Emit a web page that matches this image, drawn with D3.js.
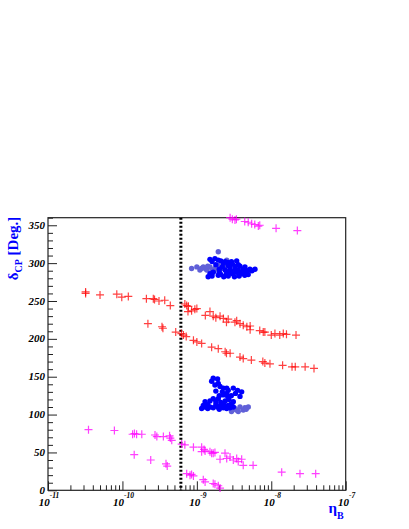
<!DOCTYPE html>
<meta charset="utf-8">
<script src="https://d3js.org/d3.v7.min.js"></script>
<style type="text/css">
body { margin: 0; background: #fff; }
.axis path { display: none; }
.axis line { stroke: #222; stroke-width: 1px; }
.tickLabel {
  font-family: "Liberation Serif", serif;
  font-weight: bold;
  font-style: italic;
  font-size: 11px;
  fill: #000;
}
.axisTitle {
  font-family: "Liberation Serif", serif;
  font-weight: bold;
  fill: #0000ff;
}
</style>
<body></body>
<script>

// [eta_B, delta_CP]
var redPoints = [
  [3.2e-11,262],[3.2e-11,260],[5.0e-11,258],[8.4e-11,259],[9.8e-11,255],[1.2e-10,256],
  [2.1e-10,253],[2.6e-10,253],[2.7e-10,252],[3.1e-10,250],[3.7e-10,251],[4.4e-10,244],
  [7.3e-10,244],[7.6e-10,236],[6.9e-10,246],[7.7e-10,243],[8.5e-10,237],[9.4e-10,239],
  [1.0e-9,240],[1.3e-9,231],[1.5e-9,236],[1.66e-9,230],[1.8e-9,228],[2.05e-9,230],
  [2.27e-9,227],[2.5e-9,222],[2.64e-9,226],[3.25e-9,222],[3.43e-9,224],[3.8e-9,220],
  [4.2e-9,218],[4.7e-9,216],[5.2e-9,217],[5.2e-9,212],[7.0e-9,211],[7.8e-9,209],
  [8.2e-9,209],[1.0e-8,205],[1.12e-8,207],[1.3e-8,205],[1.45e-8,207],[1.6e-8,206],
  [2.15e-8,205],
  [2.2e-10,220],[3.4e-10,216],[3.5e-10,214],[5.2e-10,209],[6.2e-10,207],[7.2e-10,203],
  [6.6e-10,205],[9.0e-10,198],[1.0e-9,196],[1.16e-9,194],[1.58e-9,189],[1.94e-9,187],
  [2.4e-9,183],[2.5e-9,181],[2.8e-9,181],[3.8e-9,176],[4.2e-9,174],[5.4e-9,172],
  [7.7e-9,170],[8.2e-9,168],[9.6e-9,167],[1.42e-8,165],[1.9e-8,163],[2.1e-8,163],
  [2.85e-8,163],[3.75e-8,161]
];

var magentaPoints = [
  [2.8e-9,360],[3.0e-9,358],[3.25e-9,357],[3.4e-9,358],[4.4e-9,355],[4.9e-9,354],
  [5.45e-9,352],[6.0e-9,351],[6.7e-9,349],[7.0e-9,350],[1.16e-8,346],[2.24e-8,343],
  [3.5e-11,80],[7.8e-11,79],[1.37e-10,74],[1.45e-10,75],[1.55e-10,74],[1.82e-10,74],
  [2.74e-10,73],[2.9e-10,71],[3.55e-10,71],[4.3e-10,72],[4.4e-10,69],[4.6e-10,66],
  [6.25e-10,61],[6.9e-10,60],[9.0e-10,57],[1.16e-9,57],[1.25e-9,54],[1.29e-9,52],
  [1.16e-9,51],[1.5e-9,51],[1.58e-9,49],[1.66e-9,49],[1.75e-9,50],[2.05e-9,41],
  [2.39e-9,49],[2.52e-9,42],[2.79e-9,44],[3.09e-9,40],[3.43e-9,42],[3.6e-9,38],
  [4.0e-9,41],[4.2e-9,33],[5.7e-9,33],[1.38e-8,24],[2.43e-8,22],[3.95e-8,22],
  [1.44e-10,47],[2.4e-10,40],[3.85e-10,35],[4.0e-10,32],[7.3e-10,22],[8.1e-10,20],
  [8.5e-10,21],[9.0e-10,19],[1.22e-9,14],[1.29e-9,11],[1.66e-9,9],[1.75e-9,8],
  [1.94e-9,6],[2.05e-9,3]
];

var lightBluePoints = [
  [8.5e-10,293],[1.0e-9,295],[1.1e-9,291],[1.22e-9,295],[1.3e-9,293],[1.36e-9,291],
  [1.5e-9,295],[1.6e-9,291],[1.75e-9,293],[1.94e-9,297],[2.0e-9,291],[2.16e-9,293],
  [2.39e-9,296],[2.52e-9,304],[1.94e-9,315],[1.15e-9,293],[1.4e-9,296],[1.7e-9,290],
  [3.25e-9,108],[3.8e-9,110],[4.43e-9,109],[4.91e-9,110],[2.92e-9,104],[3.6e-9,104],
  [4.2e-9,106],[3.4e-9,106],[4.6e-9,107]
];

var bluePoints = [
  [1.5e-9,305],[1.75e-9,306],[1.94e-9,304],[2.1e-9,303],[2.92e-9,302],[3.43e-9,303],
  [2.27e-9,300],[2.64e-9,297],[3.0e-9,299],[3.25e-9,296],[3.8e-9,296],[4.43e-9,295],
  [5.17e-9,292],[6.04e-9,292],[2.4e-9,291],[2.9e-9,289],[3.4e-9,288],[4.0e-9,288],
  [1.42e-9,282],[1.6e-9,283],[1.94e-9,284],[2.3e-9,282],[2.64e-9,283],[3.2e-9,282],
  [3.7e-9,283],[4.4e-9,284],[4.9e-9,285],[1.5e-9,286],[1.66e-9,288],[2.0e-9,288],
  [2.2e-9,295],[2.8e-9,293],[3.0e-9,286],[4.8e-9,290],[2.5e-9,286],[1.8e-9,298],
  [2.0e-9,292],[3.6e-9,291],[4.2e-9,292],[2.6e-9,301],[1.6e-9,302],
  [2.4e-9,302],[3.3e-9,292],[3.9e-9,286],[5.5e-9,290],[2.8e-9,298],[3.6e-9,298],
  [2.1e-9,285],[2.7e-9,289],[4.5e-9,288],
  [1.66e-9,148],[1.9e-9,147],[1.58e-9,144],[1.94e-9,141],[1.75e-9,139],[2.05e-9,137],
  [2.27e-9,135],[2.52e-9,135],[2.64e-9,132],[3.09e-9,135],[3.53e-9,132],[4.0e-9,130],
  [3.8e-9,124],[2.52e-9,128],[2.27e-9,126],[1.94e-9,121],[1.66e-9,121],[1.29e-9,117],
  [1.5e-9,118],[1.16e-9,108],[1.29e-9,110],[1.5e-9,110],[1.66e-9,109],[1.9e-9,110],
  [2.05e-9,111],[2.27e-9,109],[2.52e-9,108],[2.79e-9,109],[3.09e-9,110],[3.09e-9,117],
  [2.64e-9,112],[1.22e-9,112],[1.4e-9,113],[1.8e-9,114],[2.1e-9,116],[2.4e-9,118],
  [2.7e-9,120],[2.0e-9,125],[2.2e-9,130],[1.8e-9,131],[2.6e-9,124],[3.3e-9,128],[2.9e-9,114],
  [1.8e-9,118],[2.3e-9,113],[1.4e-9,108],[2.0e-9,107],[2.9e-9,125]
];

var observedEta = 6.1e-10;
var xDecades = [-11, -10, -9, -8, -7];
var yTicks = [0, 50, 100, 150, 200, 250, 300, 350];

var width = 409, height = 529;
var frame = {left: 48, right: 345.7, top: 217.7, bottom: 490.3};

var svg = d3.select("body").append("svg")
    .attr("width", width)
    .attr("height", height);

var xScale = d3.scaleLog()
  .domain([1e-11, 1e-7])
  .range([frame.left, frame.right]);

var yScale = d3.scaleLinear()
  .domain([0, 360])
  .range([frame.bottom, frame.top]);

// minor ticks 2..9 in each decade
var xMinor = [];
xDecades.slice(0, -1).forEach(function(e) {
  for (var k = 2; k < 10; k++) xMinor.push(k * Math.pow(10, e));
});
var yMinor = d3.range(0, 361, 10).filter(function(v) { return v % 50 != 0; });

svg.append("g").attr("class", "x axis")
  .attr("transform", "translate(0," + frame.bottom + ")")
  .call(d3.axisBottom(xScale).tickValues(xMinor).tickSize(-5).tickFormat(""));
svg.append("g").attr("class", "x axis")
  .attr("transform", "translate(0," + frame.bottom + ")")
  .call(d3.axisBottom(xScale).tickValues(xDecades.map(function(e) { return Math.pow(10, e); })).tickSize(-9).tickFormat(""));

svg.append("g").attr("class", "y axis")
  .attr("transform", "translate(" + frame.left + ",0)")
  .call(d3.axisLeft(yScale).tickValues(yMinor).tickSize(-5).tickFormat(""));
svg.append("g").attr("class", "y axis")
  .attr("transform", "translate(" + frame.left + ",0)")
  .call(d3.axisLeft(yScale).tickValues(yTicks).tickSize(-9).tickFormat(""));

// frame
svg.append("rect")
  .attr("x", frame.left)
  .attr("y", frame.top)
  .attr("width", frame.right - frame.left)
  .attr("height", frame.bottom - frame.top)
  .style("fill", "none")
  .style("stroke", "#222")
  .style("stroke-width", 1.2);

// tick labels
svg.selectAll(".yLabel")
  .data(yTicks).enter().append("text")
  .attr("class", "tickLabel")
  .attr("x", frame.left - 3)
  .attr("y", function(d) { return yScale(d); })
  .attr("dy", "0.33em")
  .attr("text-anchor", "end")
  .text(function(d) { return d; });

var xLab = svg.selectAll(".xLabel")
  .data(xDecades).enter().append("text")
  .attr("class", "tickLabel")
  .attr("x", function(d) { return xScale(Math.pow(10, d)) + 1; })
  .attr("y", frame.bottom + 16)
  .attr("text-anchor", "middle");
xLab.append("tspan").text("10");
xLab.append("tspan")
  .attr("dy", -8)
  .style("font-size", "7.5px")
  .text(function(d) { return d; });

// observed value
svg.append("line")
  .attr("x1", xScale(observedEta))
  .attr("x2", xScale(observedEta))
  .attr("y1", frame.top)
  .attr("y2", frame.bottom)
  .style("stroke", "#000")
  .style("stroke-width", 3)
  .style("stroke-dasharray", "2,2");

function plusPath(d) {
  var x = xScale(d[0]), y = yScale(d[1]), s = 4;
  return "M" + (x - s) + "," + y + "H" + (x + s) + "M" + x + "," + (y - s) + "V" + (y + s);
}

svg.selectAll(".redPlus")
  .data(redPoints).enter().append("path")
  .attr("class", "redPlus")
  .attr("d", plusPath)
  .style("stroke", "#ff0000")
  .style("stroke-opacity", 0.75)
  .style("stroke-width", 1.2);

svg.selectAll(".magentaPlus")
  .data(magentaPoints).enter().append("path")
  .attr("class", "magentaPlus")
  .attr("d", plusPath)
  .style("stroke", "#ff00ff")
  .style("stroke-opacity", 0.75)
  .style("stroke-width", 1.2);

svg.selectAll(".lightDot")
  .data(lightBluePoints).enter().append("circle")
  .attr("class", "lightDot")
  .attr("cx", function(d) { return xScale(d[0]); })
  .attr("cy", function(d) { return yScale(d[1]); })
  .attr("r", 2.7)
  .style("fill", "#6060d8");

svg.selectAll(".blueDot")
  .data(bluePoints).enter().append("circle")
  .attr("class", "blueDot")
  .attr("cx", function(d) { return xScale(d[0]); })
  .attr("cy", function(d) { return yScale(d[1]); })
  .attr("r", 2.7)
  .style("fill", "#0000ff");

// axis titles
var yTitle = svg.append("text")
  .attr("class", "axisTitle")
  .attr("transform", "translate(18," + (frame.top - 1) + ") rotate(-90)")
  .attr("text-anchor", "end")
  .style("font-size", "15px");
yTitle.append("tspan").text("\u03b4");
yTitle.append("tspan").attr("dy", 4).style("font-size", "10px").text("CP");
yTitle.append("tspan").attr("dy", -4).text(" [Deg.]");

var xTitle = svg.append("text")
  .attr("class", "axisTitle")
  .attr("x", frame.right - 2)
  .attr("y", 513)
  .attr("text-anchor", "end")
  .style("font-size", "15px");
xTitle.append("tspan").text("\u03b7");
xTitle.append("tspan").attr("dy", 6).style("font-size", "10px").text("B");

</script>
